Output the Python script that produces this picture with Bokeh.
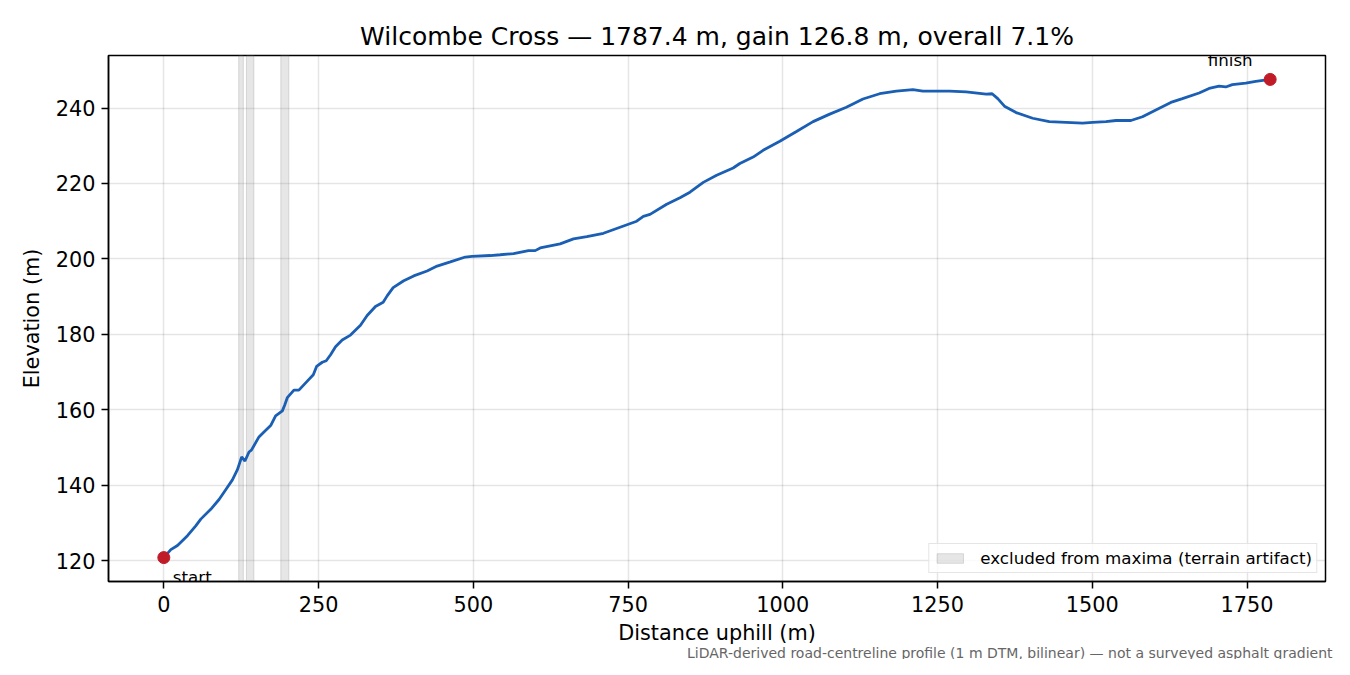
from bokeh.plotting import figure
from bokeh.models import ColumnDataSource, Range1d, FixedTicker, Label, Title, Legend, LegendItem
from bokeh.embed import file_html
from bokeh.resources import INLINE

# profile
dist = [0, 11.3, 22.1, 38.2, 51.6, 59.7, 75.8, 89.2, 100.0, 110.8, 118.9, 125.8, 131.1,
        137.6, 141.5, 153.7, 161.8, 172.6, 180.6, 191.5, 195.2, 199.5, 210.2, 218.2,
        231.8, 241.5, 246.8, 256.0, 262.4, 269.4, 277.4, 288.2, 301.6, 317.7, 328.5,
        341.9, 354.4, 360.8, 370.5, 387.6, 403.7, 425.3, 441.5, 462.9, 487.1, 497.9,
        527.4, 543.5, 565.0, 589.2, 600.0, 608.1, 640.3, 661.8, 683.4, 710.2, 737.1,
        764.0, 774.7, 785.5, 812.4, 833.9, 850.0, 871.5, 893.1, 919.8, 930.6, 952.1,
        968.2, 995.2, 1022.1, 1048.9, 1075.8, 1102.7, 1129.5, 1156.5, 1183.4, 1210.2,
        1226.3, 1269.4, 1296.3, 1328.5, 1338.2, 1347.3, 1358.1, 1376.9, 1403.7, 1430.6,
        1484.4, 1500.5, 1522.1, 1538.2, 1562.4, 1581.1, 1602.7, 1626.9, 1645.6, 1672.6,
        1688.7, 1704.8, 1715.6, 1726.3, 1747.9, 1764.0, 1787.4]
elev = [120.8, 122.9, 124.0, 126.6, 129.2, 131.0, 133.6, 136.2, 138.8, 141.4, 144.1, 147.5,
        146.4, 148.8, 149.3, 152.8, 154.1, 155.8, 158.4, 159.7, 161.2, 163.2, 165.2, 165.2,
        167.6, 169.3, 171.5, 172.6, 173.0, 174.6, 176.7, 178.5, 179.8, 182.4, 185.0, 187.4,
        188.5, 190.2, 192.4, 194.2, 195.5, 196.8, 198.1, 199.2, 200.5, 200.7, 200.9, 201.1,
        201.4, 202.2, 202.2, 202.9, 204.0, 205.3, 205.9, 206.8, 208.4, 210.0, 211.3, 211.8,
        214.5, 216.2, 217.7, 220.3, 222.2, 224.1, 225.3, 227.0, 228.8, 231.2, 233.8, 236.4,
        238.4, 240.2, 242.4, 243.8, 244.5, 244.9, 244.5, 244.5, 244.3, 243.7, 243.8, 242.5,
        240.5, 238.8, 237.3, 236.4, 236.0, 236.2, 236.4, 236.7, 236.7, 237.7, 239.5, 241.5,
        242.5, 244.0, 245.2, 245.8, 245.6, 246.2, 246.6, 247.1, 247.6]

# stretches excluded from maxima
band_start = [121.0, 133.5, 189.0]
band_end = [128.5, 145.5, 202.0]

x_ticks = [0, 250, 500, 750, 1000, 1250, 1500, 1750]
y_ticks = [120, 140, 160, 180, 200, 220, 240]

total = dist[-1]
gain = elev[-1] - elev[0]
title = f"Wilcombe Cross \u2014 {total:.1f} m, gain {gain:.1f} m, overall {gain / total * 100:.1f}%"
footnote = "LiDAR-derived road-centreline profile (1 m DTM, bilinear) \u2014 not a surveyed asphalt gradient"

FONT = "DejaVu Sans"

xpad = (max(dist) - min(dist)) * 0.05
ypad = (max(elev) - min(elev)) * 0.05
x_range = Range1d(min(dist) - xpad, max(dist) + xpad)
y_range = Range1d(min(elev) - ypad, max(elev) + ypad)

p = figure(width=1334, height=659, output_backend="svg", toolbar_location=None,
           x_range=x_range, y_range=y_range,
           min_border_left=108, min_border_right=9, min_border_top=55, min_border_bottom=10)

p.title.text = title
p.title.text_font = FONT
p.title.text_font_size = "25px"
p.title.text_font_style = "normal"
p.title.text_color = "black"
p.title.align = "center"

foot = Title(text=footnote, align="right", vertical_align="top", text_font=FONT,
             text_font_size="14px", text_font_style="normal", text_color="#666666",
             offset=-7, standoff=-6)
p.add_layout(foot, "below")

bands = ColumnDataSource(dict(left=band_start, right=band_end,
                              bottom=[y_range.start] * len(band_start),
                              top=[y_range.end] * len(band_start)))
band_r = p.quad(left="left", right="right", bottom="bottom", top="top", source=bands,
                fill_color="grey", fill_alpha=0.2, line_color="grey", line_alpha=0.25, line_width=1)

p.line(dist, elev, line_color="#1a5fb4", line_width=2.8)
p.scatter([dist[0], dist[-1]], [elev[0], elev[-1]], size=12, fill_color="#c01c28", line_color="#c01c28")

p.add_layout(Label(x=dist[0], y=elev[0], text="start", x_offset=9, y_offset=-19,
                   text_baseline="middle", text_align="left", text_color="black",
                   text_font=FONT, text_font_size="16.7px"))
p.add_layout(Label(x=dist[-1], y=elev[-1], text="finish", x_offset=-40, y_offset=19,
                   text_baseline="middle", text_align="center", text_color="black",
                   text_font=FONT, text_font_size="16.7px"))

legend = Legend(items=[LegendItem(label="excluded from maxima (terrain artifact)", renderers=[band_r])],
                location="bottom_right")
legend.label_text_font = FONT
legend.label_text_font_size = "16.7px"
legend.label_text_color = "black"
legend.glyph_width = 33
legend.glyph_height = 12
legend.label_height = 20
legend.padding = 4
legend.margin = 8
legend.label_standoff = 14
legend.border_line_color = "#cccccc"
legend.background_fill_alpha = 0.8
p.add_layout(legend)

p.xaxis.axis_label = "Distance uphill (m)"
p.yaxis.axis_label = "Elevation (m)"
p.xaxis.ticker = FixedTicker(ticks=x_ticks)
p.yaxis.ticker = FixedTicker(ticks=y_ticks)
for ax in (p.xaxis, p.yaxis):
    ax.axis_label_text_font = FONT
    ax.axis_label_text_font_size = "20.8px"
    ax.axis_label_text_font_style = "normal"
    ax.axis_label_text_color = "black"
    ax.major_label_text_font = FONT
    ax.major_label_text_font_size = "20.8px"
    ax.major_label_text_color = "black"
    ax.axis_line_color = "black"
    ax.axis_line_width = 1.5
    ax.major_tick_line_color = "black"
    ax.major_tick_line_width = 1.5
    ax.major_tick_out = 7
    ax.major_tick_in = 0
    ax.minor_tick_line_color = None
p.xaxis.major_label_standoff = 7
p.yaxis.major_label_standoff = 6
p.yaxis.axis_label_standoff = 9
p.xaxis.axis_label_standoff = 6

p.outline_line_color = "black"
p.outline_line_width = 1.5
p.outline_line_alpha = 1
p.grid.grid_line_color = "black"
p.grid.grid_line_alpha = 0.1
p.grid.grid_line_width = 1.5

open("out.html", "w").write(file_html(p, INLINE))
